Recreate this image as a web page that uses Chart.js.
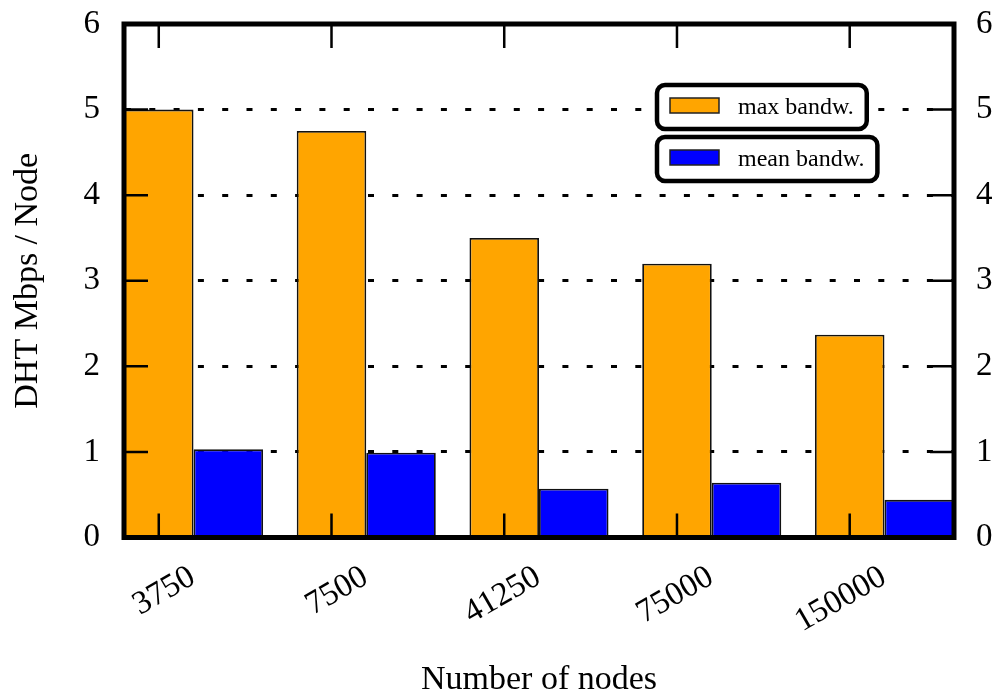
<!DOCTYPE html>
<html lang="en">
<head>
<meta charset="UTF-8">
<title>DHT bandwidth per node</title>
<script src="https://cdn.jsdelivr.net/npm/chart.js"></script>
<style>
    body { margin: 0; background: #fff; }
    #wrap { width: 999px; height: 696px; }
</style>
</head>
<body>
<div id="wrap"><canvas id="bwChart" width="999" height="696"></canvas></div>
<script>
    // values
    const nodeCounts = ['3750', '7500', '41250', '75000', '150000'];
    const maxBandwidth = [5.0, 4.75, 3.5, 3.2, 2.37];
    const meanBandwidth = [1.03, 0.99, 0.57, 0.64, 0.44];
    const yTicks = [0, 1, 2, 3, 4, 5, 6];

    const serif = "'Liberation Serif', 'Times New Roman', serif";
    const groupPct = 0.805;          // share of the slot taken by the two bars
    const edge = groupPct / 2;

    function points(values) {
        return values.map((v, i) => ({ x: i, y: v }));
    }

    // fixed axis widths, and no extra room asked for the end labels
    function fixWidth(w) {
        return axis => {
            axis.width = w;
            axis.paddingTop = 0;
            axis.paddingBottom = 0;
        };
    }

    // thick frame + inward tick marks (gnuplot look)
    const framePlugin = {
        id: 'frame',
        afterDraw(chart) {
            const { ctx, chartArea: a, scales } = chart;
            const tick = 24;
            ctx.save();
            ctx.strokeStyle = '#000';
            ctx.lineWidth = 2.5;
            ctx.beginPath();
            scales.x.ticks.forEach(t => {
                const px = scales.x.getPixelForValue(t.value);
                ctx.moveTo(px, a.bottom); ctx.lineTo(px, a.bottom - tick);
                ctx.moveTo(px, a.top); ctx.lineTo(px, a.top + tick);
            });
            scales.y.ticks.forEach(t => {
                const py = scales.y.getPixelForValue(t.value);
                ctx.moveTo(a.left, py); ctx.lineTo(a.left + tick, py);
                ctx.moveTo(a.right, py); ctx.lineTo(a.right - tick, py);
            });
            ctx.stroke();
            ctx.lineWidth = 5;
            ctx.strokeRect(a.left, a.top, a.right - a.left, a.bottom - a.top);
            ctx.restore();
        }
    };

    // one rounded box per series, like the original key
    const boxLegend = {
        id: 'boxLegend',
        afterDraw(chart) {
            const ctx = chart.ctx;
            ctx.save();
            ctx.font = "24px " + serif;
            ctx.textBaseline = 'middle';
            chart.data.datasets.forEach((ds, i) => {
                const top = 85 + i * 52;
                const left = 657;
                const textX = 738;
                const w = textX + ctx.measureText(ds.label).width + 13 - left;
                ctx.beginPath();
                ctx.roundRect(left, top, w, 44, 8);
                ctx.fillStyle = '#fff';
                ctx.fill();
                ctx.lineWidth = 4.5;
                ctx.strokeStyle = '#000';
                ctx.stroke();
                ctx.fillStyle = ds.backgroundColor;
                ctx.fillRect(670, top + 13, 49, 15);
                ctx.lineWidth = 1.5;
                ctx.strokeStyle = '#222';
                ctx.strokeRect(670, top + 13, 49, 15);
                ctx.fillStyle = '#000';
                ctx.fillText(ds.label, textX, top + 23);
            });
            ctx.restore();
        }
    };

    const tickFont = { family: serif, size: 33, lineHeight: 1 };
    const titleFont = { family: serif, size: 34, lineHeight: 1 };

    new Chart(document.getElementById('bwChart'), {
        type: 'bar',
        data: {
            datasets: [
                {
                    label: 'max bandw.',
                    data: points(maxBandwidth),
                    backgroundColor: '#FFA500',
                    borderColor: '#111',
                    borderWidth: 1.8,
                    categoryPercentage: groupPct,
                    barPercentage: 1
                },
                {
                    label: 'mean bandw.',
                    data: points(meanBandwidth),
                    backgroundColor: '#0000FF',
                    borderColor: '#111',
                    borderWidth: 1.8,
                    categoryPercentage: groupPct,
                    barPercentage: 1
                }
            ]
        },
        options: {
            responsive: false,
            animation: false,
            layout: { padding: { top: 24, left: 0, right: 0, bottom: 0 } },
            plugins: {
                legend: { display: false },
                tooltip: { enabled: false }
            },
            scales: {
                x: {
                    type: 'linear',
                    min: -edge,
                    max: nodeCounts.length - 1 + edge,
                    offset: false,
                    grid: { display: false },
                    border: { display: false },
                    afterBuildTicks: axis => {
                        // ticks sit under the first bar of each group
                        axis.ticks = nodeCounts.map((c, i) => ({ value: i - groupPct / 4 }));
                    },
                    afterFit: axis => { axis.height = 158.5; },
                    ticks: {
                        autoSkip: false,
                        minRotation: 30,
                        maxRotation: 30,
                        labelOffset: 34,
                        padding: 15,
                        color: '#000',
                        font: tickFont,
                        callback: (v, i) => nodeCounts[i]
                    },
                    title: {
                        display: true,
                        text: 'Number of nodes',
                        color: '#000',
                        font: titleFont,
                        padding: { top: 0, bottom: -1 }
                    }
                },
                y: {
                    min: 0,
                    max: 6,
                    z: 1,
                    afterBuildTicks: axis => { axis.ticks = yTicks.map(v => ({ value: v })); },
                    afterFit: fixWidth(124),
                    grid: { color: '#000', lineWidth: 3, drawTicks: false },
                    border: { display: false, dash: [6, 18.3], dashOffset: -1 },
                    ticks: { padding: 24, color: '#000', font: tickFont },
                    title: {
                        display: true,
                        text: 'DHT Mbps / Node',
                        color: '#000',
                        font: titleFont,
                        padding: { top: 11, bottom: 0 }
                    }
                },
                y2: {
                    position: 'right',
                    min: 0,
                    max: 6,
                    afterBuildTicks: axis => { axis.ticks = yTicks.map(v => ({ value: v })); },
                    afterFit: fixWidth(45),
                    grid: { display: false, drawTicks: false },
                    border: { display: false },
                    ticks: { padding: 22, color: '#000', font: tickFont }
                }
            }
        },
        plugins: [framePlugin, boxLegend]
    });
</script>
</body>
</html>
